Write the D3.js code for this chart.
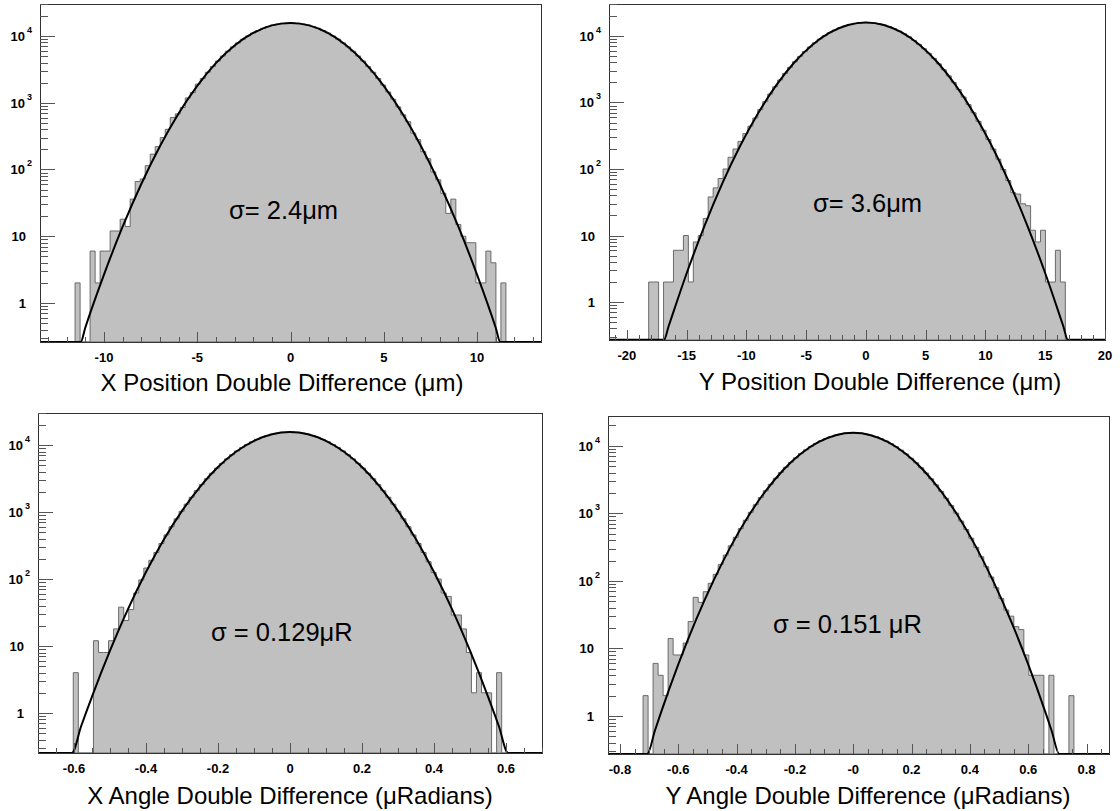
<!DOCTYPE html>
<html><head><meta charset="utf-8">
<script src="https://cdn.jsdelivr.net/npm/d3@7"></script>
<style>
body{margin:0;background:#fff}
svg{display:block}
text{font-family:"Liberation Sans",Arial,Helvetica,sans-serif}
</style>
</head><body>
<svg id="c" width="1120" height="811"></svg>
<script>
// ---------------- DATA ----------------
// histogram bin contents (100 equal bins spanning each x range)
const xPosCounts = [
  0,0,0,0,0,0,0,2,0,0,
  6,2,6,6,12,12,18,14,36,66,
  72,114,170,220,300,400,600,680,850,1180,
  1420,1900,2310,2860,3480,4210,5010,5900,6860,7870,
  8930,10000,11040,12060,13000,13840,14550,15100,15490,15670,
  15670,15490,15100,14550,13840,13000,12060,11040,10000,8930,
  7870,6860,5900,5010,4210,3480,2860,2310,1840,1450,
  1130,867,659,520,350,280,185,145,92,70,
  44,22,36,15,10,8,8,2,2,6,
  4,0,2,0,0,0,0,0,0,0];
const yPosCounts = [
  0,0,0,0,0,0,0,0,2,2,
  0,2,2,6,6,10,2,8,10,18,
  38,52,72,100,150,200,260,340,440,585,
  782,1030,1340,1720,2180,2730,3370,4100,4930,5850,
  6840,7890,8990,10110,11220,12280,13270,14130,14860,15450,
  15820,15990,15960,15710,15250,14620,13810,12880,11880,10790,
  9680,8570,7480,6440,5480,4600,3810,3110,2510,2000,
  1570,1210,929,701,521,383,278,199,141,98,
  67,44,42,30,28,12,8,12,2,2,
  6,2,0,0,0,0,0,0,0,0];
const xAngCounts = [
  0,0,0,0,0,0,0,4,0,0,
  0,12,8,8,12,18,38,24,35,62,
  97,146,190,249,339,455,603,791,1025,1310,
  1660,2080,2570,3140,3790,4520,5330,6210,7160,8150,
  9170,10190,11200,12160,13050,13840,14510,15030,15390,15570,
  15570,15390,15030,14510,13840,13050,12160,11200,10190,9170,
  8150,7160,6210,5330,4520,3790,3140,2570,2080,1660,
  1310,1025,791,603,455,339,249,181,125,100,
  62,55,29,29,18,8,2,4,2,2,
  0,4,0,0,0,0,0,0,0,0];
const yAngCounts = [
  0,0,0,0,0,0,0,2,0,6,
  4,2,14,8,8,12,25,57,48,69,
  92,125,175,240,330,441,593,789,1033,1337,
  1710,2158,2685,3304,4010,4800,5675,6620,7640,8690,
  9750,10810,11830,12770,13620,14340,14890,15280,15460,15460,
  15250,14860,14280,13550,12700,11740,10710,9660,8590,7540,
  6530,5590,4720,3940,3240,2630,2110,1670,1306,1007,
  767,576,428,314,227,162,114,79,55,37,
  30,21,19,8,4,4,4,0,4,0,
  0,0,2,0,0,0,0,0,0,0];

// histogram x ranges
const xPosRange = [-13.43, 13.43];
const yPosRange = [-21.5, 20];
const xAngRange = [-0.7, 0.7];
const yAngRange = [-0.841, 0.877];

// Gaussian fit curves (x, counts; clipped at axis minimum)
const xPosFitX = [-13.43,-11.25,-11,-10,-9,-8,-7,-6,-5,-4,-3,-2,-1,0,1,2,3,4,5,6,7,8,9,10,11,11.25,13.43];
const xPosFitY = [0.26,0.26,0.43,2.67,13.9,60.7,223,690,1790,3920,7190,11100,14400,15700,14400,11100,7190,3920,1790,690,223,60.7,13.9,2.67,0.43,0.26,0.26];
const yPosFitX = [-21.5,-16.9,-16.5,-15,-13.5,-12,-10.5,-9,-7.5,-6,-4.5,-3,-1.5,0,1.5,3,4.5,6,7.5,9,10.5,12,13.5,15,16.5,16.9,20];
const yPosFitY = [0.27,0.27,0.44,2.71,14.1,61.8,227,701,1820,3990,7330,11300,14660,16000,14660,11300,7330,3990,1820,701,227,61.8,14.1,2.71,0.44,0.27,0.27];
const xAngFitX = [-0.7,-0.606,-0.58,-0.55,-0.5,-0.45,-0.4,-0.35,-0.3,-0.25,-0.2,-0.15,-0.1,-0.05,0,0.05,0.1,0.15,0.2,0.25,0.3,0.35,0.4,0.45,0.5,0.55,0.58,0.606,0.7];
const xAngFitY = [0.253,0.253,0.64,1.76,8.5,35.5,127,393,1042,2380,4690,7920,11540,14460,15600,14460,11540,7920,4690,2380,1042,393,127,35.5,8.5,1.76,0.64,0.253,0.253];
const yAngFitX = [-0.841,-0.7065,-0.68,-0.66,-0.6,-0.54,-0.48,-0.42,-0.36,-0.3,-0.24,-0.18,-0.12,-0.06,0,0.06,0.12,0.18,0.24,0.3,0.36,0.42,0.48,0.54,0.6,0.66,0.68,0.7065,0.877];
const yAngFitY = [0.274,0.274,0.61,1.10,5.8,25.9,99,324,903,2150,4380,7600,11300,14320,15500,14320,11300,7600,4380,2150,903,324,99,25.9,5.8,1.10,0.61,0.274,0.274];

// axis ticks and labels
const xPosTicks = [-10,-5,0,5,10];
const xPosTickLabels = ["-10","-5","0","5","10"];
const yPosTicks = [-20,-15,-10,-5,0,5,10,15,20];
const yPosTickLabels = ["-20","-15","-10","-5","0","5","10","15","20"];
const xAngTicks = [-0.6,-0.4,-0.2,0,0.2,0.4,0.6];
const xAngTickLabels = ["-0.6","-0.4","-0.2","0","0.2","0.4","0.6"];
const yAngTicks = [-0.8,-0.6,-0.4,-0.2,0,0.2,0.4,0.6,0.8];
const yAngTickLabels = ["-0.8","-0.6","-0.4","-0.2","-0","0.2","0.4","0.6","0.8"];
const countTicks = [1,10,100,1000,10000];
const countTickBase = ["1","10","10","10","10"];
const countTickExp = ["","","2","3","4"];

// texts
const axisTitles = ["X Position Double Difference (\u03bcm)","Y Position Double Difference (\u03bcm)",
                    "X Angle Double Difference (\u03bcRadians)","Y Angle Double Difference (\u03bcRadians)"];
const sigmaLabels = ["\u03c3= 2.4\u03bcm","\u03c3= 3.6\u03bcm","\u03c3 = 0.129\u03bcR","\u03c3 = 0.151 \u03bcR"];

// ---------------- LAYOUT ----------------
const panels = [
  {counts:xPosCounts, range:xPosRange, fx:xPosFitX, fy:xPosFitY, ticks:xPosTicks, tl:xPosTickLabels, minor:1,
   L:40, R:541, T:4, B:342, lmin:-0.584, lmax:4.479, titleC:282, titleY:391, sx:229, sy:219},
  {counts:yPosCounts, range:yPosRange, fx:yPosFitX, fy:yPosFitY, ticks:yPosTicks, tl:yPosTickLabels, minor:1,
   L:609, R:1105, T:4, B:340, lmin:-0.571, lmax:4.481, titleC:880, titleY:390, sx:813, sy:212},
  {counts:xAngCounts, range:xAngRange, fx:xAngFitX, fy:xAngFitY, ticks:xAngTicks, tl:xAngTickLabels, minor:0.05,
   L:38, R:542, T:413, B:753, lmin:-0.597, lmax:4.478, titleC:290, titleY:804, sx:211, sy:641},
  {counts:yAngCounts, range:yAngRange, fx:yAngFitX, fy:yAngFitY, ticks:yAngTicks, tl:yAngTickLabels, minor:0.05,
   L:608, R:1109, T:416, B:754, lmin:-0.563, lmax:4.44, titleC:868, titleY:804, sx:773, sy:633}
];

const svg = d3.select("#c");
svg.append("rect").attr("width",1120).attr("height",811).attr("fill","#fff");

panels.forEach((p,i)=>{
  const g = svg.append("g");
  const ymin = Math.pow(10,p.lmin), ymax = Math.pow(10,p.lmax);
  const x = d3.scaleLinear().domain(p.range).range([p.L,p.R]);
  const y = d3.scaleLog().domain([ymin,ymax]).range([p.B,p.T]);
  const clipId = "clip"+i;
  g.append("clipPath").attr("id",clipId).append("rect")
    .attr("x",p.L).attr("y",p.T).attr("width",p.R-p.L).attr("height",p.B-p.T);

  // histogram as step path
  const n = p.counts.length;
  const w = (p.range[1]-p.range[0])/n;
  const yv = c => c > ymin ? y(Math.min(c,ymax)) : p.B;
  let d = `M${x(p.range[0])},${p.B}`;
  p.counts.forEach((c,k)=>{
    const x0 = x(p.range[0]+k*w), x1 = x(p.range[0]+(k+1)*w);
    d += `L${x0},${yv(c)}L${x1},${yv(c)}`;
  });
  d += `L${x(p.range[1])},${p.B}Z`;
  g.append("path").attr("d",d).attr("fill","#c0c0c0")
    .attr("stroke","#6a6a6a").attr("stroke-width",1).attr("clip-path",`url(#${clipId})`);

  // fit curve
  const pts = p.fx.map((v,j)=>[v, Math.max(p.fy[j], ymin)]);
  const line = d3.line().x(q=>x(q[0])).y(q=>y(q[1])).curve(d3.curveMonotoneX);
  g.append("path").attr("d",line(pts)).attr("fill","none")
    .attr("stroke","#000").attr("stroke-width",2).attr("stroke-linejoin","round");

  // frame
  g.append("rect").attr("x",p.L+0.5).attr("y",p.T+0.5).attr("width",p.R-p.L).attr("height",p.B-p.T)
    .attr("fill","none").attr("stroke","#333").attr("stroke-width",1);

  // y axis (log) ticks pointing into the frame
  const yt = y.ticks();
  yt.forEach(t=>{
    const lg = Math.log10(t);
    const major = Math.abs(lg-Math.round(lg))<1e-9;
    const yy = Math.round(y(t))+0.5;
    g.append("line").attr("x1",p.L).attr("x2",p.L+(major?15:8)).attr("y1",yy).attr("y2",yy)
      .attr("stroke","#555").attr("stroke-width",1);
  });
  countTicks.forEach((t,j)=>{
    const yy = y(t);
    if (countTickExp[j]) {
      g.append("text").attr("x",p.L-15).attr("y",yy+5).attr("text-anchor","end")
        .attr("font-size",13).attr("font-weight","bold").attr("fill","#000").text(countTickBase[j]);
      g.append("text").attr("x",p.L-13).attr("y",yy-3).attr("text-anchor","start")
        .attr("font-size",9).attr("font-weight","bold").attr("fill","#000").text(countTickExp[j]);
    } else {
      g.append("text").attr("x",p.L-14).attr("y",yy+5).attr("text-anchor","end")
        .attr("font-size",13).attr("font-weight","bold").attr("fill","#000").text(countTickBase[j]);
    }
  });

  // x axis ticks pointing up
  const minorTicks = d3.range(Math.ceil(p.range[0]/p.minor-1e-9)*p.minor, p.range[1]+1e-9, p.minor);
  minorTicks.forEach(t=>{
    const xx = Math.round(x(t))+0.5;
    g.append("line").attr("x1",xx).attr("x2",xx).attr("y1",p.B).attr("y2",p.B-5)
      .attr("stroke","#555").attr("stroke-width",1);
  });
  p.ticks.forEach((t,j)=>{
    const xx = Math.round(x(t))+0.5;
    g.append("line").attr("x1",xx).attr("x2",xx).attr("y1",p.B).attr("y2",p.B-10)
      .attr("stroke","#555").attr("stroke-width",1);
    g.append("text").attr("x",x(t)).attr("y",p.B+20).attr("text-anchor","middle")
      .attr("font-size",13).attr("font-weight","bold").attr("fill","#000").text(p.tl[j]);
  });

  // axis title
  g.append("text").attr("x",p.titleC).attr("y",p.titleY).attr("text-anchor","middle")
    .attr("font-size",24).attr("fill","#000").text(axisTitles[i]);

  // sigma label
  g.append("text").attr("x",p.sx).attr("y",p.sy).attr("text-anchor","start")
    .attr("font-size",25.5).attr("fill","#000").text(sigmaLabels[i]);
});
</script>
</body></html>
